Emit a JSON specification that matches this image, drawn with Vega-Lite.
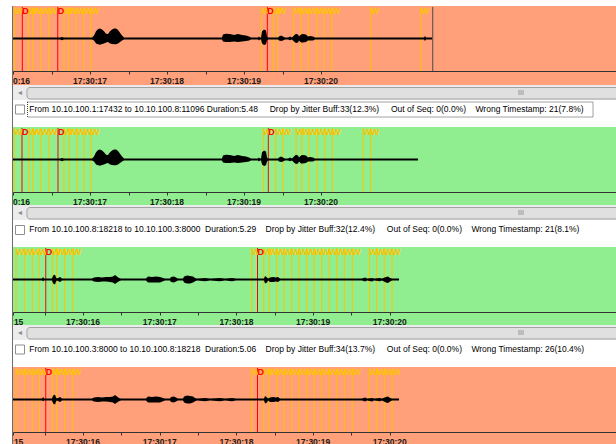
{
"$schema": "https://vega.github.io/schema/vega-lite/v6.json",
"background": "white",
"padding": {"left": 12, "top": 6, "right": 0, "bottom": 0},
"spacing": 0,
"config": {"view": {"stroke": null}, "font": "Liberation Sans"},
"datasets": {
"wfA": [
{"t":16.000,"hi":3,"lo":-3},{"t":16.610,"hi":3,"lo":-3},{"t":16.636,"hi":5,"lo":-5},{"t":16.662,"hi":3,"lo":-3},
{"t":17.026,"hi":3,"lo":-3},{"t":17.052,"hi":9,"lo":-6},{"t":17.078,"hi":22,"lo":-15},{"t":17.104,"hi":29,"lo":-18},
{"t":17.130,"hi":31,"lo":-19},{"t":17.156,"hi":28,"lo":-17},{"t":17.182,"hi":22,"lo":-15},{"t":17.208,"hi":15,"lo":-12},
{"t":17.234,"hi":14,"lo":-11},{"t":17.260,"hi":22,"lo":-15},{"t":17.286,"hi":28,"lo":-17},{"t":17.312,"hi":31,"lo":-18},
{"t":17.338,"hi":31,"lo":-18},{"t":17.364,"hi":26,"lo":-15},{"t":17.390,"hi":18,"lo":-11},{"t":17.416,"hi":9,"lo":-6},
{"t":17.442,"hi":3,"lo":-3},{"t":18.714,"hi":3,"lo":-3},{"t":18.727,"hi":12,"lo":-9},{"t":18.766,"hi":15,"lo":-11},
{"t":18.818,"hi":14,"lo":-11},{"t":18.870,"hi":11,"lo":-9},{"t":18.922,"hi":14,"lo":-11},{"t":18.974,"hi":11,"lo":-9},
{"t":19.026,"hi":9,"lo":-8},{"t":19.065,"hi":6,"lo":-6},{"t":19.091,"hi":3,"lo":-3},{"t":19.182,"hi":3,"lo":-3},
{"t":19.195,"hi":6,"lo":-6},{"t":19.208,"hi":3,"lo":-3},{"t":19.221,"hi":3,"lo":-3},{"t":19.234,"hi":22,"lo":-15},
{"t":19.260,"hi":28,"lo":-20},{"t":19.286,"hi":25,"lo":-18},{"t":19.299,"hi":6,"lo":-6},{"t":19.312,"hi":3,"lo":-3},
{"t":19.442,"hi":3,"lo":-3},{"t":19.455,"hi":6,"lo":-6},{"t":19.481,"hi":9,"lo":-8},{"t":19.506,"hi":6,"lo":-6},
{"t":19.532,"hi":3,"lo":-3},{"t":19.571,"hi":3,"lo":-3},{"t":19.597,"hi":6,"lo":-5},{"t":19.623,"hi":3,"lo":-3},
{"t":19.649,"hi":9,"lo":-9},{"t":19.675,"hi":15,"lo":-14},{"t":19.701,"hi":12,"lo":-12},{"t":19.714,"hi":6,"lo":-6},
{"t":19.740,"hi":12,"lo":-12},{"t":19.766,"hi":14,"lo":-12},{"t":19.805,"hi":12,"lo":-11},{"t":19.831,"hi":6,"lo":-6},
{"t":19.857,"hi":8,"lo":-6},{"t":19.896,"hi":6,"lo":-6},{"t":19.922,"hi":3,"lo":-3},{"t":21.260,"hi":3,"lo":-3},
{"t":21.338,"hi":3,"lo":-3},{"t":21.351,"hi":8,"lo":-8},{"t":21.364,"hi":3,"lo":-3},{"t":21.442,"hi":3,"lo":-3}
],
"wfB": [
{"t":15.087,"hi":3,"lo":-3},{"t":15.465,"hi":3,"lo":-3},{"t":15.479,"hi":8,"lo":-5},{"t":15.492,"hi":3,"lo":-3},
{"t":15.596,"hi":3,"lo":-3},{"t":15.609,"hi":12,"lo":-12},{"t":15.635,"hi":15,"lo":-15},{"t":15.648,"hi":6,"lo":-6},
{"t":15.661,"hi":3,"lo":-3},{"t":15.700,"hi":8,"lo":-8},{"t":15.726,"hi":3,"lo":-3},{"t":16.117,"hi":3,"lo":-3},
{"t":16.143,"hi":6,"lo":-6},{"t":16.196,"hi":8,"lo":-8},{"t":16.248,"hi":6,"lo":-6},{"t":16.300,"hi":8,"lo":-6},
{"t":16.352,"hi":8,"lo":-8},{"t":16.391,"hi":9,"lo":-9},{"t":16.417,"hi":14,"lo":-14},{"t":16.443,"hi":9,"lo":-9},
{"t":16.469,"hi":5,"lo":-5},{"t":16.495,"hi":3,"lo":-3},{"t":16.821,"hi":3,"lo":-3},{"t":16.847,"hi":9,"lo":-9},
{"t":16.900,"hi":8,"lo":-9},{"t":16.952,"hi":9,"lo":-9},{"t":17.004,"hi":8,"lo":-9},{"t":17.043,"hi":5,"lo":-5},
{"t":17.069,"hi":3,"lo":-3},{"t":17.134,"hi":3,"lo":-3},{"t":17.147,"hi":8,"lo":-8},{"t":17.186,"hi":9,"lo":-9},
{"t":17.212,"hi":6,"lo":-6},{"t":17.238,"hi":3,"lo":-3},{"t":17.304,"hi":3,"lo":-3},{"t":17.317,"hi":9,"lo":-9},
{"t":17.356,"hi":12,"lo":-12},{"t":17.395,"hi":11,"lo":-12},{"t":17.434,"hi":9,"lo":-9},{"t":17.460,"hi":5,"lo":-5},
{"t":17.486,"hi":3,"lo":-3},{"t":17.591,"hi":5,"lo":-5},{"t":17.656,"hi":3,"lo":-3},{"t":17.786,"hi":5,"lo":-5},
{"t":17.852,"hi":3,"lo":-3},{"t":17.943,"hi":5,"lo":-5},{"t":17.995,"hi":3,"lo":-3},{"t":18.360,"hi":3,"lo":-3},
{"t":18.373,"hi":11,"lo":-12},{"t":18.399,"hi":6,"lo":-9},{"t":18.412,"hi":3,"lo":-3},{"t":18.438,"hi":6,"lo":-8},
{"t":18.478,"hi":8,"lo":-8},{"t":18.516,"hi":6,"lo":-6},{"t":18.542,"hi":8,"lo":-8},{"t":18.568,"hi":3,"lo":-3},
{"t":19.637,"hi":3,"lo":-3},{"t":19.677,"hi":6,"lo":-6},{"t":19.703,"hi":3,"lo":-3},{"t":19.768,"hi":5,"lo":-6},
{"t":19.794,"hi":3,"lo":-3},{"t":19.872,"hi":5,"lo":-5},{"t":19.898,"hi":3,"lo":-3},{"t":19.950,"hi":8,"lo":-9},
{"t":19.977,"hi":9,"lo":-11},{"t":20.003,"hi":5,"lo":-6},{"t":20.029,"hi":3,"lo":-3},{"t":20.120,"hi":3,"lo":-3}
],
"m1": [
{"t":16.017,"kind":"W"},{"t":16.121,"kind":"D"},{"t":16.199,"kind":"W"},{"t":16.256,"kind":"W"},{"t":16.360,"kind":"W"},
{"t":16.464,"kind":"W"},{"t":16.581,"kind":"D"},{"t":16.662,"kind":"W"},{"t":16.723,"kind":"W"},{"t":16.818,"kind":"W"},
{"t":16.918,"kind":"W"},{"t":17.009,"kind":"W"},{"t":19.230,"kind":"W"},{"t":19.303,"kind":"D"},{"t":19.381,"kind":"W"},
{"t":19.438,"kind":"W"},{"t":19.645,"kind":"W"},{"t":19.736,"kind":"W"},{"t":19.835,"kind":"W"},{"t":19.944,"kind":"W"},
{"t":20.039,"kind":"W"},{"t":20.139,"kind":"W"},{"t":20.645,"kind":"W"},{"t":21.295,"kind":"W"},{"t":21.451,"kind":"E"}
],
"m2": [
{"t":16.013,"kind":"W"},{"t":16.117,"kind":"D"},{"t":16.208,"kind":"W"},{"t":16.260,"kind":"W"},{"t":16.364,"kind":"W"},
{"t":16.468,"kind":"W"},{"t":16.584,"kind":"D"},{"t":16.662,"kind":"W"},{"t":16.727,"kind":"W"},{"t":16.831,"kind":"W"},
{"t":16.922,"kind":"W"},{"t":17.013,"kind":"W"},{"t":19.251,"kind":"W"},{"t":19.316,"kind":"D"},{"t":19.412,"kind":"W"},
{"t":19.503,"kind":"W"},{"t":19.675,"kind":"W"},{"t":19.753,"kind":"W"},{"t":19.844,"kind":"W"},{"t":19.952,"kind":"W"},
{"t":20.052,"kind":"W"},{"t":20.147,"kind":"W"},{"t":20.549,"kind":"W"},{"t":20.645,"kind":"W"}
],
"m34": [
{"t":15.126,"kind":"W"},{"t":15.235,"kind":"W"},{"t":15.339,"kind":"W"},{"t":15.426,"kind":"W"},{"t":15.514,"kind":"D"},
{"t":15.600,"kind":"W"},{"t":15.657,"kind":"W"},{"t":15.759,"kind":"W"},{"t":15.866,"kind":"W"},{"t":18.200,"kind":"W"},
{"t":18.275,"kind":"D"},{"t":18.356,"kind":"W"},{"t":18.428,"kind":"W"},{"t":18.525,"kind":"W"},{"t":18.621,"kind":"W"},
{"t":18.721,"kind":"W"},{"t":18.820,"kind":"W"},{"t":18.917,"kind":"W"},{"t":19.014,"kind":"W"},{"t":19.112,"kind":"W"},
{"t":19.211,"kind":"W"},{"t":19.308,"kind":"W"},{"t":19.407,"kind":"W"},{"t":19.511,"kind":"W"},{"t":19.733,"kind":"W"},
{"t":19.829,"kind":"W"},{"t":19.928,"kind":"W"},{"t":20.029,"kind":"W"}
],
"ticksA": [
{"t":16,"label":"17:30:16"},{"t":17,"label":"17:30:17"},{"t":18,"label":"17:30:18"},{"t":19,"label":"17:30:19"},{"t":20,"label":"17:30:20"}
],
"ticksB": [
{"t":15,"label":"17:30:15"},{"t":16,"label":"17:30:16"},{"t":17,"label":"17:30:17"},{"t":18,"label":"17:30:18"},{"t":19,"label":"17:30:19"},{"t":20,"label":"17:30:20"}
]
},
"vconcat": [
{
"width": 603, "height": 79,
"view": {"fill": "#FFA07A", "stroke": null},
"layer": [
{"data": {"name": "m1"}, "mark": {"type": "rule", "strokeWidth": 1},
 "encoding": {
  "x": {"field": "t", "type": "quantitative", "scale": {"domain": [16, 23.831], "nice": false, "zero": false}, "axis": {"offset": -14, "values": [16,16.5,17,17.5,18,18.5,19,19.5,20], "labels": false, "title": null, "grid": false, "domainColor": "#333333", "tickColor": "#333333", "tickSize": 3}},
  "y": {"datum": 97, "type": "quantitative", "scale": {"domain": [-100, 100], "range": [65, 0], "nice": false, "zero": false}, "axis": null},
  "y2": {"datum": -100},
  "color": {"field": "kind", "type": "nominal", "scale": {"domain": ["W","D","E"], "range": ["#FFC300","#FF0000","#4a4a4a"]}, "legend": null}}},
{"data": {"name": "wfA"}, "mark": {"type": "area", "color": "black"},
 "encoding": {"x": {"field": "t", "type": "quantitative"}, "y": {"field": "hi", "type": "quantitative"}, "y2": {"field": "lo"}}},
{"data": {"name": "m1"}, "transform": [{"filter": "datum.kind !== 'E'"}],
 "mark": {"type": "text", "align": "left", "baseline": "alphabetic", "fontSize": 9, "fontWeight": "bold"},
 "encoding": {"x": {"field": "t", "type": "quantitative"}, "y": {"datum": 74}, "text": {"field": "kind"}, "color": {"field": "kind", "type": "nominal", "legend": null}}},
{"data": {"name": "ticksA"}, "mark": {"type": "text", "clip": true, "baseline": "middle", "fontSize": 8.5, "fontWeight": "bold", "color": "#1a1a1a"},
 "encoding": {"x": {"field": "t", "type": "quantitative"}, "y": {"datum": -131}, "text": {"field": "label"}}},
{"data": {"values": [{"frame": "left"}]}, "mark": {"type": "rect", "color": "#6d6d6d"},
 "encoding": {"x": {"value": -1}, "x2": {"value": 0}, "y": {"value": 0}, "y2": {"value": 79}}}
]
},
{
"width": 603, "height": 42,
"data": {"values": [{"label": "From 10.10.100.1:17432 to 10.10.100.8:11096\u00a0Duration:5.48\u00a0\u00a0\u00a0\u00a0\u00a0Drop by Jitter Buff:33(12.3%)\u00a0\u00a0\u00a0\u00a0\u00a0Out of Seq: 0(0.0%)\u00a0\u00a0\u00a0\u00a0Wrong Timestamp: 21(7.8%)"}]},
"layer": [
{"mark": {"type": "rect", "color": "#ebebeb"}, "encoding": {"x": {"value": 0}, "x2": {"value": 603}, "y": {"value": 0}, "y2": {"value": 15}}},
{"mark": {"type": "rect", "fill": "#e0e0e0", "stroke": "#a3a3a3", "strokeWidth": 1, "cornerRadius": 3, "clip": true}, "encoding": {"x": {"value": 14}, "x2": {"value": 612}, "y": {"value": 2.5}, "y2": {"value": 14}}},
{"mark": {"type": "text", "fontSize": 8, "color": "#8a8a8a", "baseline": "middle"}, "encoding": {"x": {"value": 7}, "y": {"value": 8}, "text": {"value": "◂"}}},
{"mark": {"type": "text", "fontSize": 7, "color": "#7a7a7a", "baseline": "middle"}, "encoding": {"x": {"value": 508}, "y": {"value": 8}, "text": {"value": "III"}}},
{"mark": {"type": "rect", "fill": "white", "stroke": "#8e8f8f", "strokeWidth": 1}, "encoding": {"x": {"value": 2.5}, "x2": {"value": 11.5}, "y": {"value": 20}, "y2": {"value": 29}}},
{"mark": {"type": "rect", "filled": false, "color": "#444444", "strokeDash": [1, 1], "strokeWidth": 1}, "encoding": {"x": {"value": 14.5}, "x2": {"value": 580}, "y": {"value": 17}, "y2": {"value": 32}}},
{"mark": {"type": "text", "align": "left", "baseline": "alphabetic", "fontSize": 8.5, "color": "black"}, "encoding": {"x": {"value": 16.3}, "y": {"value": 27.3}, "text": {"field": "label"}}},
{"mark": {"type": "rect", "color": "#6d6d6d"}, "encoding": {"x": {"value": -1}, "x2": {"value": 0}, "y": {"value": 0}, "y2": {"value": 42}}}
]
},
{
"width": 603, "height": 78,
"view": {"fill": "#90EE90", "stroke": null},
"layer": [
{"data": {"name": "m2"}, "mark": {"type": "rule", "strokeWidth": 1},
 "encoding": {
  "x": {"field": "t", "type": "quantitative", "scale": {"domain": [16, 23.831], "nice": false, "zero": false}, "axis": {"offset": -13, "values": [16,16.5,17,17.5,18,18.5,19,19.5,20], "labels": false, "title": null, "grid": false, "domainColor": "#333333", "tickColor": "#333333", "tickSize": 3}},
  "y": {"datum": 97, "type": "quantitative", "scale": {"domain": [-100, 100], "range": [65, 0], "nice": false, "zero": false}, "axis": null},
  "y2": {"datum": -100},
  "color": {"field": "kind", "type": "nominal", "legend": null}}},
{"data": {"name": "wfA"}, "transform": [{"filter": "datum.t <= 21.27"}], "mark": {"type": "area", "color": "black"},
 "encoding": {"x": {"field": "t", "type": "quantitative"}, "y": {"field": "hi", "type": "quantitative"}, "y2": {"field": "lo"}}},
{"data": {"name": "m2"},
 "mark": {"type": "text", "align": "left", "baseline": "alphabetic", "fontSize": 9, "fontWeight": "bold"},
 "encoding": {"x": {"field": "t", "type": "quantitative"}, "y": {"datum": 74}, "text": {"field": "kind"}, "color": {"field": "kind", "type": "nominal", "legend": null}}},
{"data": {"name": "ticksA"}, "mark": {"type": "text", "clip": true, "baseline": "middle", "fontSize": 8.5, "fontWeight": "bold", "color": "#1a1a1a"},
 "encoding": {"x": {"field": "t", "type": "quantitative"}, "y": {"datum": -131}, "text": {"field": "label"}}},
{"data": {"values": [{"frame": "left"}]}, "mark": {"type": "rect", "color": "#6d6d6d"},
 "encoding": {"x": {"value": -1}, "x2": {"value": 0}, "y": {"value": 0}, "y2": {"value": 78}}}
]
},
{
"width": 603, "height": 42,
"data": {"values": [{"label": "From 10.10.100.8:18218 to 10.10.100.3:8000\u00a0\u00a0Duration:5.29\u00a0\u00a0\u00a0\u00a0Drop by Jitter Buff:32(12.4%)\u00a0\u00a0\u00a0\u00a0\u00a0Out of Seq: 0(0.0%)\u00a0\u00a0\u00a0\u00a0Wrong Timestamp: 21(8.1%)"}]},
"layer": [
{"mark": {"type": "rect", "color": "#ebebeb"}, "encoding": {"x": {"value": 0}, "x2": {"value": 603}, "y": {"value": 0}, "y2": {"value": 15}}},
{"mark": {"type": "rect", "fill": "#e0e0e0", "stroke": "#a3a3a3", "strokeWidth": 1, "cornerRadius": 3, "clip": true}, "encoding": {"x": {"value": 14}, "x2": {"value": 612}, "y": {"value": 2.5}, "y2": {"value": 14}}},
{"mark": {"type": "text", "fontSize": 8, "color": "#8a8a8a", "baseline": "middle"}, "encoding": {"x": {"value": 7}, "y": {"value": 8}, "text": {"value": "◂"}}},
{"mark": {"type": "text", "fontSize": 7, "color": "#7a7a7a", "baseline": "middle"}, "encoding": {"x": {"value": 508}, "y": {"value": 8}, "text": {"value": "III"}}},
{"mark": {"type": "rect", "fill": "white", "stroke": "#8e8f8f", "strokeWidth": 1}, "encoding": {"x": {"value": 2.5}, "x2": {"value": 11.5}, "y": {"value": 20.5}, "y2": {"value": 29.5}}},
{"mark": {"type": "text", "align": "left", "baseline": "alphabetic", "fontSize": 8.5, "color": "black"}, "encoding": {"x": {"value": 16.3}, "y": {"value": 27.3}, "text": {"field": "label"}}},
{"mark": {"type": "rect", "color": "#6d6d6d"}, "encoding": {"x": {"value": -1}, "x2": {"value": 0}, "y": {"value": 0}, "y2": {"value": 42}}}
]
},
{
"width": 603, "height": 78,
"view": {"fill": "#90EE90", "stroke": null},
"layer": [
{"data": {"name": "m34"}, "mark": {"type": "rule", "strokeWidth": 1},
 "encoding": {
  "x": {"field": "t", "type": "quantitative", "scale": {"domain": [15.087, 22.949], "nice": false, "zero": false}, "axis": {"offset": -13, "values": [15.087,15.5,16,16.5,17,17.5,18,18.5,19,19.5,20], "labels": false, "title": null, "grid": false, "domainColor": "#333333", "tickColor": "#333333", "tickSize": 3}},
  "y": {"datum": 97, "type": "quantitative", "scale": {"domain": [-100, 100], "range": [65, 0], "nice": false, "zero": false}, "axis": null},
  "y2": {"datum": -100},
  "color": {"field": "kind", "type": "nominal", "legend": null}}},
{"data": {"name": "wfB"}, "mark": {"type": "area", "color": "black"},
 "encoding": {"x": {"field": "t", "type": "quantitative"}, "y": {"field": "hi", "type": "quantitative"}, "y2": {"field": "lo"}}},
{"data": {"name": "m34"},
 "mark": {"type": "text", "align": "left", "baseline": "alphabetic", "fontSize": 9, "fontWeight": "bold"},
 "encoding": {"x": {"field": "t", "type": "quantitative"}, "y": {"datum": 74}, "text": {"field": "kind"}, "color": {"field": "kind", "type": "nominal", "legend": null}}},
{"data": {"name": "ticksB"}, "mark": {"type": "text", "clip": true, "baseline": "middle", "fontSize": 8.5, "fontWeight": "bold", "color": "#1a1a1a"},
 "encoding": {"x": {"field": "t", "type": "quantitative"}, "y": {"datum": -131}, "text": {"field": "label"}}},
{"data": {"values": [{"frame": "left"}]}, "mark": {"type": "rect", "color": "#6d6d6d"},
 "encoding": {"x": {"value": -1}, "x2": {"value": 0}, "y": {"value": 0}, "y2": {"value": 78}}}
]
},
{
"width": 603, "height": 42,
"data": {"values": [{"label": "From 10.10.100.3:8000 to 10.10.100.8:18218\u00a0\u00a0Duration:5.06\u00a0\u00a0\u00a0\u00a0Drop by Jitter Buff:34(13.7%)\u00a0\u00a0\u00a0\u00a0\u00a0Out of Seq: 0(0.0%)\u00a0\u00a0\u00a0\u00a0Wrong Timestamp: 26(10.4%)"}]},
"layer": [
{"mark": {"type": "rect", "color": "#ebebeb"}, "encoding": {"x": {"value": 0}, "x2": {"value": 603}, "y": {"value": 0}, "y2": {"value": 15}}},
{"mark": {"type": "rect", "fill": "#e0e0e0", "stroke": "#a3a3a3", "strokeWidth": 1, "cornerRadius": 3, "clip": true}, "encoding": {"x": {"value": 14}, "x2": {"value": 612}, "y": {"value": 2.5}, "y2": {"value": 14}}},
{"mark": {"type": "text", "fontSize": 8, "color": "#8a8a8a", "baseline": "middle"}, "encoding": {"x": {"value": 7}, "y": {"value": 8}, "text": {"value": "◂"}}},
{"mark": {"type": "text", "fontSize": 7, "color": "#7a7a7a", "baseline": "middle"}, "encoding": {"x": {"value": 508}, "y": {"value": 8}, "text": {"value": "III"}}},
{"mark": {"type": "rect", "fill": "white", "stroke": "#8e8f8f", "strokeWidth": 1}, "encoding": {"x": {"value": 2.5}, "x2": {"value": 11.5}, "y": {"value": 20}, "y2": {"value": 29}}},
{"mark": {"type": "text", "align": "left", "baseline": "alphabetic", "fontSize": 8.5, "color": "black"}, "encoding": {"x": {"value": 16.3}, "y": {"value": 27.3}, "text": {"field": "label"}}},
{"mark": {"type": "rect", "color": "#6d6d6d"}, "encoding": {"x": {"value": -1}, "x2": {"value": 0}, "y": {"value": 0}, "y2": {"value": 42}}}
]
},
{
"width": 603, "height": 77,
"view": {"fill": "#FFA07A", "stroke": null},
"layer": [
{"data": {"name": "m34"}, "mark": {"type": "rule", "strokeWidth": 1},
 "encoding": {
  "x": {"field": "t", "type": "quantitative", "scale": {"domain": [15.087, 22.949], "nice": false, "zero": false}, "axis": {"offset": -12, "values": [15.087,15.5,16,16.5,17,17.5,18,18.5,19,19.5,20], "labels": false, "title": null, "grid": false, "domainColor": "#333333", "tickColor": "#333333", "tickSize": 3}},
  "y": {"datum": 97, "type": "quantitative", "scale": {"domain": [-100, 100], "range": [65, 0], "nice": false, "zero": false}, "axis": null},
  "y2": {"datum": -100},
  "color": {"field": "kind", "type": "nominal", "legend": null}}},
{"data": {"name": "wfB"}, "mark": {"type": "area", "color": "black"},
 "encoding": {"x": {"field": "t", "type": "quantitative"}, "y": {"field": "hi", "type": "quantitative"}, "y2": {"field": "lo"}}},
{"data": {"name": "m34"},
 "mark": {"type": "text", "align": "left", "baseline": "alphabetic", "fontSize": 9, "fontWeight": "bold"},
 "encoding": {"x": {"field": "t", "type": "quantitative"}, "y": {"datum": 74}, "text": {"field": "kind"}, "color": {"field": "kind", "type": "nominal", "legend": null}}},
{"data": {"name": "ticksB"}, "mark": {"type": "text", "clip": true, "baseline": "middle", "fontSize": 8.5, "fontWeight": "bold", "color": "#1a1a1a"},
 "encoding": {"x": {"field": "t", "type": "quantitative"}, "y": {"datum": -131}, "text": {"field": "label"}}},
{"data": {"values": [{"frame": "left"}]}, "mark": {"type": "rect", "color": "#6d6d6d"},
 "encoding": {"x": {"value": -1}, "x2": {"value": 0}, "y": {"value": 0}, "y2": {"value": 77}}}
]
}
]
}
